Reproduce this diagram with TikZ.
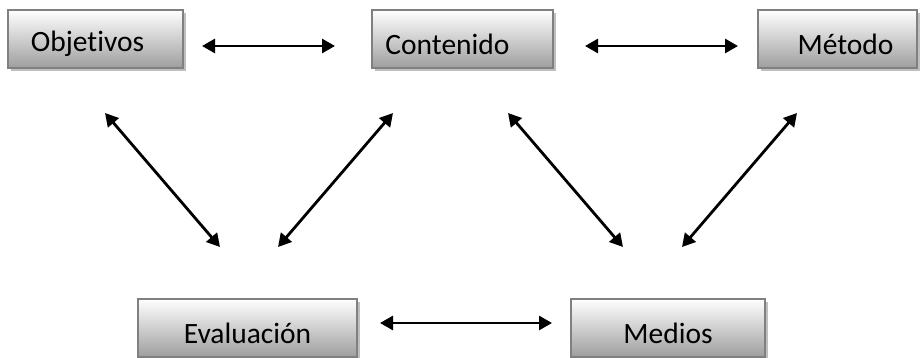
\documentclass[tikz,border=0pt]{standalone}
\usepackage{fontspec}
\setmainfont{Carlito}[Ligatures={NoCommon,NoRare},Contextuals=NoAlternate]
\usetikzlibrary{arrows.meta}
\tikzset{
  box/.style={draw=black!50, line width=1.5pt, top color=white, bottom color=black!38,
    minimum height=58pt, inner sep=0pt, outer sep=0pt,
    preaction={fill=black!25, transform canvas={xshift=3pt,yshift=-3pt}}},
  txt/.style={font=\fontsize{29.5}{34}\selectfont, inner sep=0pt},
  link/.style={line width=2.8pt, {Triangle[length=13pt,width=14pt]}-{Triangle[length=13pt,width=14pt]}}
}
\begin{document}
\begin{tikzpicture}[x=1pt,y=-1pt]
\useasboundingbox (0,0) rectangle (923,358);
\node[box, minimum width=175pt] (obj) at (95.5,39) {};
\node[box, minimum width=181pt] (con) at (462.5,39) {};
\node[box, minimum width=159pt] (met) at (837.5,39) {};
\node[box, minimum width=219pt] (eva) at (247.5,328) {};
\node[box, minimum width=194pt] (med) at (668,328) {};
\node[txt] (tobj) at ([xshift=-8pt,yshift=-5pt]obj.center) {Objetivos};
\node[txt] (tcon) at ([xshift=-15pt,yshift=-5pt]con.center) {Contenido};
\node[txt] (tmet) at ([xshift=8pt,yshift=-5pt]met.center) {Método};
\node[txt] (teva) at ([yshift=-5pt]eva.center) {Evaluación};
\node[txt] (tmed) at ([yshift=-5pt]med.center) {Medios};
\coordinate (a1) at (202,46); \coordinate (a2) at (335,46);
\coordinate (b1) at (585,46); \coordinate (b2) at (738,46);
\coordinate (c1) at (380,323); \coordinate (c2) at (552,323);
\coordinate (d1) at (105,113); \coordinate (d2) at (220,247);
\coordinate (e1) at (393,113); \coordinate (e2) at (278,247);
\coordinate (f1) at (508,113); \coordinate (f2) at (623,247);
\coordinate (g1) at (797,113); \coordinate (g2) at (682,247);
\draw[link] (a1) -- (a2);
\draw[link] (b1) -- (b2);
\draw[link] (c1) -- (c2);
\draw[link] (d1) -- (d2);
\draw[link] (e1) -- (e2);
\draw[link] (f1) -- (f2);
\draw[link] (g1) -- (g2);
\end{tikzpicture}
\end{document}
